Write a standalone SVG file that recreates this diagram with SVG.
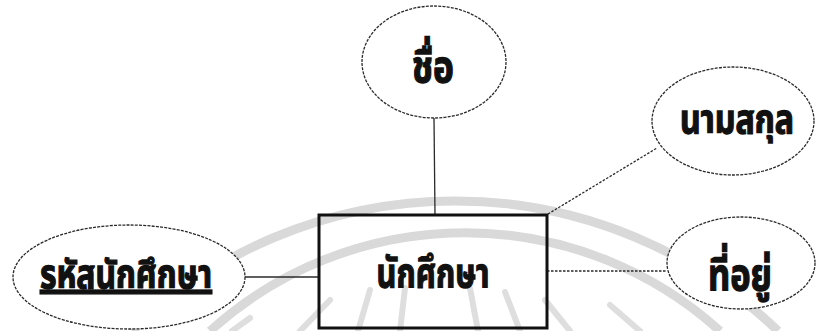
<svg xmlns="http://www.w3.org/2000/svg" width="817" height="331" viewBox="0 0 817 331">
<style>
.bg{fill:#ffffff}
.wm{fill:none;stroke:#d9d9d9;stroke-width:9}
.ray{stroke:#dedede;stroke-width:6;stroke-linecap:round}
.attr{fill:#ffffff;stroke:#2a2a2a;stroke-width:1.3;stroke-dasharray:3 1.2}
.ent{fill:none;stroke:#111111;stroke-width:3}
.conn{stroke:#2a2a2a;stroke-width:1.3;fill:none}
.dot{stroke-dasharray:2.5 1.5}
.lbl{font-family:"Noto Sans Thai","Noto Sans","DejaVu Sans",sans-serif;font-weight:bold;fill:#111111;stroke:#111111;stroke-width:1.3;text-anchor:middle}
</style>
<rect class="bg" x="0" y="0" width="817" height="331"/>
<g id="watermark">
<path class="wm" d="M 132 331 A 466 466 0 0 1 778 331"/>
<path class="wm" d="M 210 331 A 380 380 0 0 1 720 331"/>
<line class="ray" x1="330" y1="300" x2="300" y2="331"/>
<line class="ray" x1="370" y1="290" x2="358" y2="331"/>
<line class="ray" x1="405" y1="288" x2="400" y2="331"/>
<line class="ray" x1="470" y1="288" x2="478" y2="331"/>
<line class="ray" x1="505" y1="292" x2="520" y2="331"/>
<line class="ray" x1="545" y1="300" x2="570" y2="331"/>
<line class="ray" x1="250" y1="318" x2="232" y2="331"/>
<line class="ray" x1="610" y1="305" x2="640" y2="331"/>
</g>
<g id="connectors">
<line class="conn" x1="434" y1="118" x2="435" y2="215"/>
<line class="conn" x1="245" y1="277" x2="319" y2="277"/>
<line class="conn dot" x1="547" y1="271" x2="667" y2="271"/>
<line class="conn dot" x1="548" y1="214" x2="657" y2="148"/>
</g>
<g id="entity-student">
<rect class="ent" x="319" y="215" width="228" height="113"/>
<text class="lbl" x="433" y="287" font-size="41" textLength="113" lengthAdjust="spacingAndGlyphs">นักศึกษา</text>
</g>
<g id="attr-name">
<ellipse class="attr" cx="434" cy="62" rx="72" ry="56"/>
<text class="lbl" x="433" y="82" font-size="44" textLength="42" lengthAdjust="spacingAndGlyphs">ชื่อ</text>
</g>
<g id="attr-surname">
<ellipse class="attr" cx="733" cy="121" rx="81" ry="54"/>
<text class="lbl" x="737" y="133" font-size="39" textLength="114" lengthAdjust="spacingAndGlyphs">นามสกุล</text>
</g>
<g id="attr-id">
<ellipse class="attr" cx="129" cy="277" rx="116" ry="52"/>
<text class="lbl" x="126" y="288" font-size="39" textLength="172" lengthAdjust="spacingAndGlyphs" text-decoration="underline">รหัสนักศึกษา</text>
</g>
<g id="attr-address">
<ellipse class="attr" cx="741" cy="263" rx="74" ry="46"/>
<text class="lbl" x="740" y="290" font-size="45" textLength="64" lengthAdjust="spacingAndGlyphs">ที่อยู่</text>
</g>
</svg>
